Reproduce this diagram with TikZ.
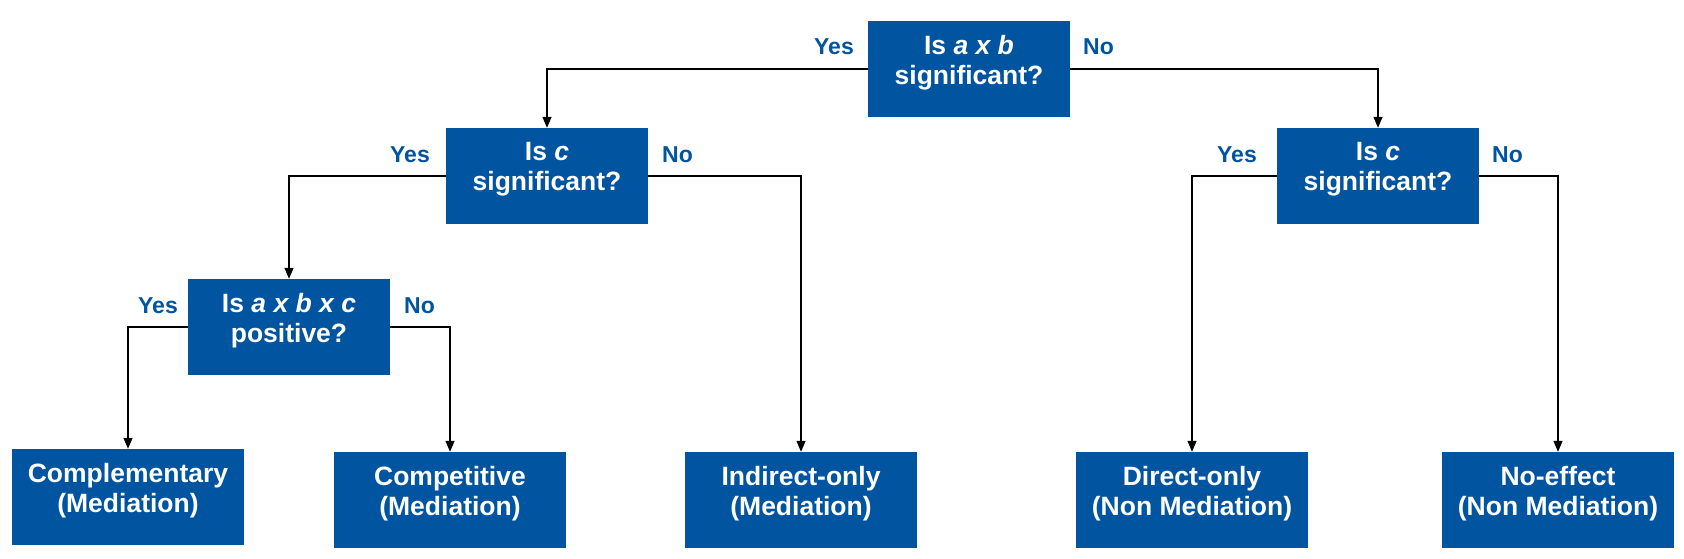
\documentclass[tikz,border=0pt]{standalone}
\usepackage{fontspec}
\setmainfont{Liberation Sans}
\usetikzlibrary{arrows.meta}
\definecolor{medblue}{RGB}{0,84,160}
\newcommand{\lowpad}{\rule[-19pt]{0pt}{0pt}}

\begin{document}
\begin{tikzpicture}[x=1pt,y=-1pt,
    qbox/.style={fill=medblue, text=white, font=\fontsize{26.5}{30}\selectfont\bfseries,
        align=center, minimum width=202pt, minimum height=96pt, inner sep=0pt},
    rbox/.style={qbox, minimum width=232pt},
    ans/.style={text=medblue, font=\fontsize{23}{27}\selectfont\bfseries, inner sep=0pt},
    link/.style={line width=1.4pt, -{Triangle[length=11pt,width=9pt]}}]
    \useasboundingbox (0,0) rectangle (1684,559);

    % questions
    \node[qbox] (ab) at (969,69) {Is \textit{a x b}\\significant?\lowpad};
    \node[qbox] (c1) at (547,176) {Is \textit{c}\\significant?\lowpad};
    \node[qbox] (c2) at (1378,176) {Is \textit{c}\\significant?\lowpad};
    \node[qbox] (pos) at (289,327) {Is \textit{a x b x c}\\positive?\lowpad};

    % outcomes
    \node[rbox] (comp) at (128,497) {Complementary\\(Mediation)\lowpad};
    \node[rbox] (compet) at (450,500) {Competitive\\(Mediation)\lowpad};
    \node[rbox] (ind) at (801,500) {Indirect-only\\(Mediation)\lowpad};
    \node[rbox] (dir) at (1192,500) {Direct-only\\(Non Mediation)\lowpad};
    \node[rbox] (noe) at (1558,500) {No-effect\\(Non Mediation)\lowpad};

    \node[ans, anchor=base east] (ab-yes) at (854,55) {Yes};
    \node[ans, anchor=base west] (ab-no) at (1083,55) {No};
    \node[ans, anchor=base east] (c1-yes) at (430,163) {Yes};
    \node[ans, anchor=base west] (c1-no) at (662,163) {No};
    \node[ans, anchor=base east] (c2-yes) at (1257,163) {Yes};
    \node[ans, anchor=base west] (c2-no) at (1492,163) {No};
    \node[ans, anchor=base east] (pos-yes) at (178,313) {Yes};
    \node[ans, anchor=base west] (pos-no) at (404,313) {No};

    \draw[link] (ab.west) -| (c1.north);
    \draw[link] (ab.east) -| (c2.north);
    \draw[link] (c1.west) -| (pos.north);
    \draw[link] (c1.east) -| (ind.north);
    \draw[link] (c2.west) -| (dir.north);
    \draw[link] (c2.east) -| (noe.north);
    \draw[link] (pos.west) -| (comp.north);
    \draw[link] (pos.east) -| (compet.north);

\end{tikzpicture}
\end{document}
